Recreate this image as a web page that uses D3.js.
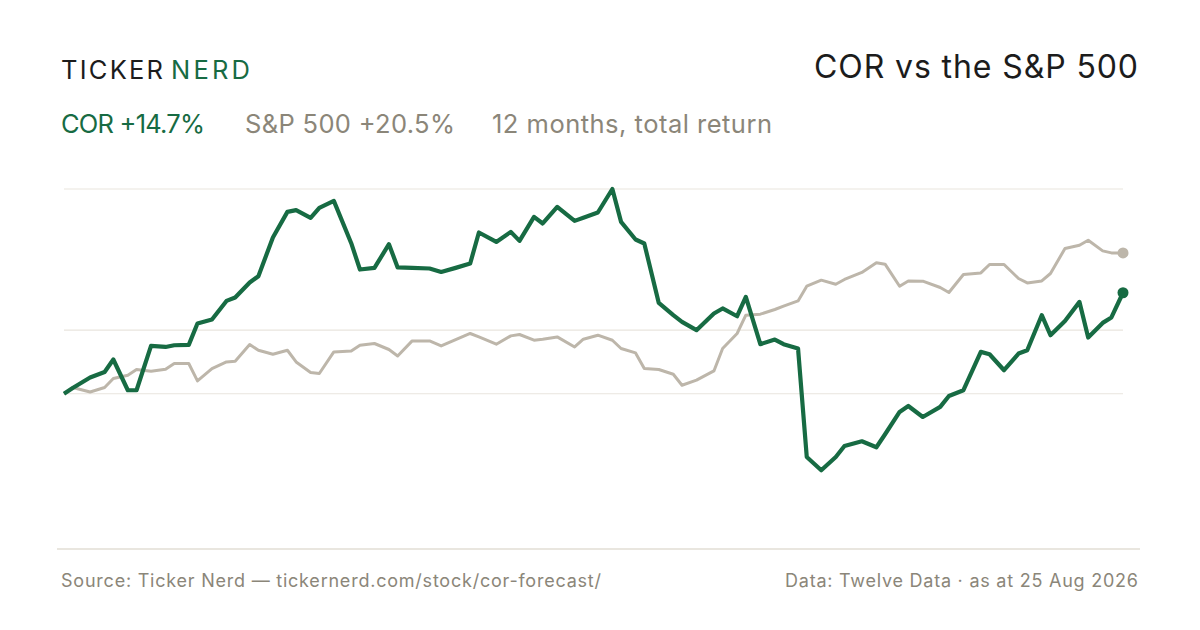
<!DOCTYPE html>
<meta charset="utf-8">
<script src="https://cdnjs.cloudflare.com/ajax/libs/d3/7.8.5/d3.min.js"></script>
<style>
  body { margin: 0; background: #fff; }
  text { font-family: Inter, "Liberation Sans", sans-serif; }
</style>
<div id="chart"></div>
<script>
  // sample dates: every third trading day, plus the last one
  const dates = [
    '2025-08-25', '2025-08-28', '2025-09-03', '2025-09-08', '2025-09-11', '2025-09-16', '2025-09-19',
    '2025-09-24', '2025-09-29', '2025-10-02', '2025-10-07', '2025-10-10', '2025-10-15', '2025-10-20',
    '2025-10-23', '2025-10-28', '2025-10-31', '2025-11-05', '2025-11-10', '2025-11-13', '2025-11-18',
    '2025-11-21', '2025-11-26', '2025-12-02', '2025-12-05', '2025-12-10', '2025-12-15', '2025-12-18',
    '2025-12-23', '2025-12-29', '2026-01-02', '2026-01-07', '2026-01-12', '2026-01-15', '2026-01-21',
    '2026-01-26', '2026-01-29', '2026-02-03', '2026-02-06', '2026-02-11', '2026-02-17', '2026-02-20',
    '2026-02-25', '2026-03-02', '2026-03-05', '2026-03-10', '2026-03-13', '2026-03-18', '2026-03-23',
    '2026-03-26', '2026-03-31', '2026-04-06', '2026-04-09', '2026-04-14', '2026-04-17', '2026-04-22',
    '2026-04-27', '2026-04-30', '2026-05-05', '2026-05-08', '2026-05-13', '2026-05-18', '2026-05-21',
    '2026-05-27', '2026-06-01', '2026-06-04', '2026-06-09', '2026-06-12', '2026-06-17', '2026-06-23',
    '2026-06-26', '2026-07-01', '2026-07-07', '2026-07-10', '2026-07-15', '2026-07-20', '2026-07-23',
    '2026-07-28', '2026-07-31', '2026-08-05', '2026-08-10', '2026-08-13', '2026-08-18', '2026-08-21',
    '2026-08-25'
  ]

  // total return since start, %
  const corReturn = [
    0, 0.84, 2.36, 3.17, 4.98, 0.51, 0.51, 6.96, 6.81, 7.06, 7.11, 10.22, 10.8, 13.51, 14.01,
    16.19, 17.11, 22.74, 26.47, 26.72, 25.6, 27.05, 28.07, 21.91, 18.08, 18.32, 21.77, 18.38, 18.32,
    18.23, 17.73, 18.32, 18.96, 23.47, 22.1, 23.56, 22.25, 25.74, 24.78, 27.2, 25.16, 25.6, 26.38,
    29.8, 25.01, 22.45, 21.87, 13.22, 11.43, 10.45, 9.25, 11.68, 12.41, 11.28, 14.09, 7.21, 7.89,
    7.21, 6.58, -9.2, -11.14, -9.2, -7.6, -6.92, -7.79, -5.9, -2.65, -1.78, -3.38, -1.92, -0.32,
    0.51, 6.09, 5.75, 3.42, 5.85, 6.33, 11.43, 8.52, 10.6, 13.37, 8.18, 10.31, 11.1, 14.7
  ]
  const spxReturn = [
    0, 0.9, 0.26, 0.9, 2.21, 2.69, 3.52, 3.28, 3.57, 4.4, 4.4, 1.86, 3.67, 4.63, 4.73, 7.16,
    6.33, 5.75, 6.33, 4.63, 3.09, 2.94, 6.09, 6.23, 7.06, 7.31, 6.44, 5.5, 7.69, 7.69, 6.96, 7.89,
    8.77, 8.27, 7.21, 8.42, 8.62, 7.79, 7.94, 8.27, 6.81, 7.94, 8.52, 7.79, 6.58, 5.94, 3.67, 3.52,
    2.84, 1.24, 1.97, 3.32, 6.58, 8.77, 11.43, 11.58, 12.26, 12.74, 13.51, 15.65, 16.53, 15.94,
    16.63, 17.66, 19.07, 18.86, 15.65, 16.42, 16.38, 15.46, 14.74, 17.36, 17.59, 18.81, 18.81,
    16.77, 16.13, 16.42, 17.5, 21.14, 21.62, 22.35, 20.79, 20.5, 20.5
  ]
  const gridValues = [0, 9.25, 29.8]

  const green = '#176b43'
  const taupe = '#bdb6aa'
  const muted = '#8b8679'

  const width = 1200
  const height = 630
  const plot = { left: 64, right: 1123, top: 189, bottom: 549 }

  const svg = d3.select('#chart').append('svg')
    .attr('width', width)
    .attr('height', height)

  const parse = d3.timeParse('%Y-%m-%d')
  const cor = dates.map((d, i) => ({ date: parse(d), value: corReturn[i] }))
  const spx = dates.map((d, i) => ({ date: parse(d), value: spxReturn[i] }))

  const x = d3.scaleTime()
    .domain(d3.extent(cor, d => d.date))
    .range([plot.left, plot.right])
  const y = d3.scaleLinear()
    .domain([-22.6, 29.8])
    .range([plot.bottom, plot.top])

  // small helper: text stretched to the width it has in the design
  function label(g, tx, ty, size, fill, str, len, anchor) {
    const t = g.append('text').attr('x', tx).attr('y', ty)
      .attr('font-size', size).attr('fill', fill)
      .attr('text-anchor', anchor || 'start')
      .text(str)
    if (len) t.attr('textLength', len).attr('lengthAdjust', 'spacing')
    return t
  }

  // header
  label(svg, 61, 79, 25.5, '#1c1c1c', 'TICKER', 102)
  label(svg, 171, 79, 25.5, green, 'NERD', 79)
  label(svg, 1138, 78, 32, '#1c1c1c', 'COR vs the S&P 500', 324, 'end')

  label(svg, 61, 133, 25.5, green, 'COR +14.7%', 144)
  label(svg, 245, 133, 25.5, muted, 'S&P 500 +20.5%', 210)
  label(svg, 492, 133, 25.5, muted, '12 months, total return', 280)

  // gridlines
  svg.append('g').selectAll('line').data(gridValues).join('line')
    .attr('x1', plot.left).attr('x2', plot.right)
    .attr('y1', d => y(d)).attr('y2', d => y(d))
    .attr('stroke', '#e9e5de').attr('stroke-width', 1.2)

  const line = d3.line().x(d => x(d.date)).y(d => y(d.value))

  svg.append('path').datum(spx)
    .attr('fill', 'none').attr('stroke', taupe).attr('stroke-width', 3)
    .attr('stroke-linejoin', 'round').attr('d', line)
  svg.append('path').datum(cor)
    .attr('fill', 'none').attr('stroke', green).attr('stroke-width', 4.2)
    .attr('stroke-linejoin', 'round').attr('d', line)

  const lastSpx = spx[spx.length - 1]
  const lastCor = cor[cor.length - 1]
  svg.append('circle').attr('cx', x(lastSpx.date)).attr('cy', y(lastSpx.value)).attr('r', 5.5).attr('fill', taupe)
  svg.append('circle').attr('cx', x(lastCor.date)).attr('cy', y(lastCor.value)).attr('r', 5.5).attr('fill', green)

  // footer
  svg.append('line').attr('x1', 57).attr('x2', 1140).attr('y1', 549).attr('y2', 549)
    .attr('stroke', '#e2ded5').attr('stroke-width', 1.5)
  label(svg, 61, 587, 18, muted, 'Source: Ticker Nerd \u2014 tickernerd.com/stock/cor-forecast/', 540)
  label(svg, 1138, 587, 18, muted, 'Data: Twelve Data \u00b7 as at 25 Aug 2026', 353, 'end')
</script>
